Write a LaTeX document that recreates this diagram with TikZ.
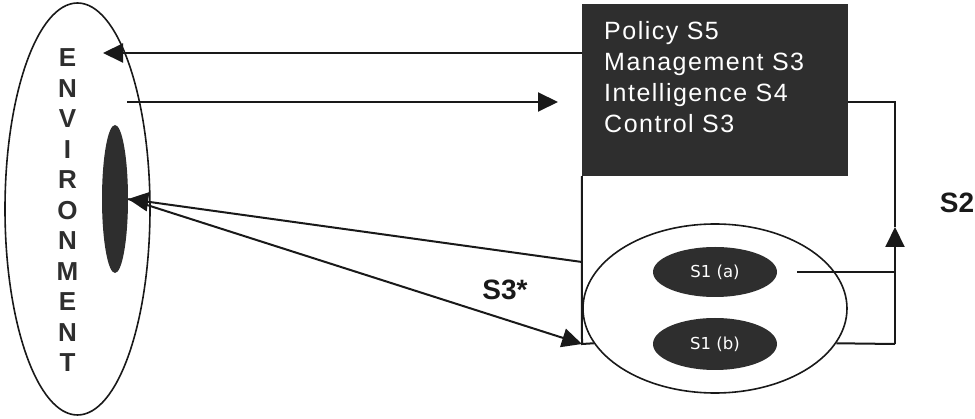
\documentclass[tikz,border=0pt]{standalone}
\usepackage{fontspec}
\setmainfont{Liberation Sans}
\newfontfamily\boxfont[LetterSpace=6]{Liberation Sans}
\newfontfamily\sonefont{DejaVu Sans}
\usetikzlibrary{shapes.geometric,arrows.meta,calc}
\definecolor{dk}{HTML}{2E2E2E}
\tikzset{
 ln/.style={line width=2pt, draw=black!90},
 arr/.style={ln, -{Triangle[length=20pt,width=19pt]}},
 oval/.style={ellipse, draw=black!90, line width=1.6pt, inner sep=0pt},
 darkoval/.style={ellipse, fill=dk, inner sep=0pt, draw=none},
 boxtxt/.style={anchor=base west, text=white, font=\boxfont\fontsize{25}{25}\selectfont, inner sep=0pt},
 s1txt/.style={darkoval, text=white, font=\sonefont\fontsize{16.5}{17}\selectfont},
 lab/.style={font=\bfseries\fontsize{28}{28}\selectfont, text=black!90, inner sep=0pt}
}
\begin{document}
\begin{tikzpicture}[x=1pt,y=-1pt]
\useasboundingbox (0,0) rectangle (975,419);
% environment
\node[oval, minimum width=145pt, minimum height=412pt] (env) at (77.5,209) {};
\node[darkoval, minimum width=26pt, minimum height=148pt] (core) at (115,199) {};
\node[align=center, font=\bfseries\fontsize{26}{30.5}\selectfont, text=dk, inner sep=0pt] (envtxt) at (67.5,210.5)
  {E\\N\\V\\I\\R\\O\\N\\M\\E\\N\\T};
% management box
\node[fill=dk, draw=none, minimum width=266pt, minimum height=172pt, inner sep=0pt] (box) at (715,90) {};
\node[boxtxt] (t1) at (604,39.5) {Policy S5};
\node[boxtxt] (t2) at (604,71) {Management S3};
\node[boxtxt] (t3) at (604,102) {Intelligence S4};
\node[boxtxt] (t4) at (604,133) {Control S3};
% operations
\node[oval, minimum width=264pt, minimum height=169pt] (s1) at (715,308.5) {};
\node[s1txt, minimum width=124pt, minimum height=50pt] (s1a) at (715,272) {S1 (a)};
\node[s1txt, minimum width=124pt, minimum height=52pt] (s1b) at (715,344) {S1 (b)};
% labels
\node[lab] (s3lab) at (505,290) {S3*};
\node[lab] (s2lab) at (957,203) {S2};
% coordinates
\coordinate (envin) at (103,53);
\coordinate (envout) at (127,102);
\coordinate (boxin) at (558,102);
\coordinate (s2top) at (895,102);
\coordinate (s2bot) at (895,344);
\coordinate (s2arr) at (895,227);
\coordinate (s3end) at (582,344);
\coordinate (s3in) at (582,262);
% connectors
\draw[arr] (box.west |- envin) -- (envin);
\draw[arr] (envout) -- (boxin);
\draw[ln] (box.east |- s2top) -- (s2top) -- (s2arr);
\draw[arr] (s2bot) -- (s2arr);
\draw[ln] (s1.-16.5) -- (s2bot);
\draw[ln] ([xshift=20pt]s1a.east) -- (s1a.east -| s2top);
\draw[ln] (box.south west) -- (s3end) -- (s1.196.5);
\draw[arr] (s3in) -- (core.east);
\draw[arr] (core.east) -- (s3end);
\end{tikzpicture}
\end{document}
